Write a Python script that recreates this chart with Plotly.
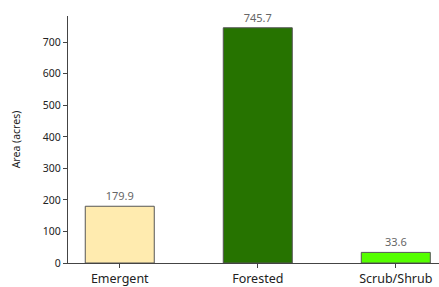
import plotly.graph_objects as go

categories = ["Emergent", "Forested", "Scrub/Shrub"]
values = [179.9, 745.7, 33.6]
colors = ["#FFEBAF", "#267300", "#55FF00"]
labels = ["179.9", "745.7", "33.6"]
y_ticks = [0, 100, 200, 300, 400, 500, 600, 700]

fig = go.Figure()
fig.add_trace(go.Bar(
    x=list(range(len(categories))), y=values, width=0.5,
    marker=dict(color=colors, line=dict(color="#555555", width=1)),
    text=labels, textposition="outside", cliponaxis=False,
    textfont=dict(color="#666666", size=11, family="Noto Sans"),
))
fig.update_layout(
    width=439, height=287,
    margin=dict(l=68, r=0, t=16, b=24),
    paper_bgcolor="white", plot_bgcolor="white",
    showlegend=False,
    font=dict(family="Noto Sans", color="#222222"),
)
fig.update_xaxes(
    range=[-0.375, 2.313], tickmode="array",
    tickvals=list(range(len(categories))), ticktext=categories,
    showline=True, linecolor="#444444", linewidth=1.2,
    ticks="outside", ticklen=4, tickcolor="#444444",
    tickfont=dict(size=12.5, color="#222222"), showgrid=False, zeroline=False,
)
fig.update_yaxes(
    range=[0, 783], tickmode="array", tickvals=y_ticks,
    showline=True, linecolor="#444444", linewidth=1.2,
    ticks="outside", ticklen=4, tickcolor="#444444",
    tickfont=dict(size=10.5, color="#222222"), showgrid=False, zeroline=False,
    title=dict(text="Area (acres)", font=dict(size=10.5, color="#222222"), standoff=20),
)
fig.write_html("out.html", config={"displayModeBar": False},
               post_script="document.body.style.margin='0';document.body.style.overflow='hidden';")
